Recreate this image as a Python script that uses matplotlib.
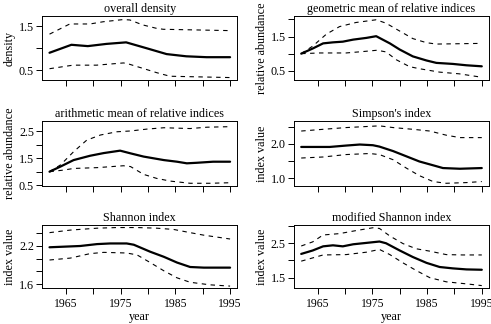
import matplotlib
matplotlib.use("Agg")
import matplotlib.pyplot as plt

plt.rcParams['font.family'] = ['Liberation Serif', 'DejaVu Serif']
plt.rcParams['font.size'] = 8.7

# overall density
dens_yr = [1962, 1966, 1969, 1972.4, 1976, 1979.8, 1983.4, 1987, 1990.7, 1995]
dens_mid = [0.90, 1.08, 1.05, 1.10, 1.135, 1.00, 0.87, 0.82, 0.80, 0.80]
dens_up_yr = [1962, 1965.7, 1969.4, 1971.8, 1975.5, 1976.7, 1979, 1981.6, 1982.8, 1995]
dens_up = [1.32, 1.55, 1.55, 1.60, 1.65, 1.64, 1.53, 1.45, 1.43, 1.40]
dens_lo_yr = [1962, 1966.3, 1970.6, 1975.5, 1976.1, 1979, 1981.6, 1984, 1987.7, 1995]
dens_lo = [0.54, 0.62, 0.62, 0.67, 0.66, 0.55, 0.45, 0.37, 0.36, 0.34]

# geometric mean of relative indices
geo_yr = [1962, 1964.1, 1966, 1967.8, 1969.6, 1971.5, 1973.9, 1975.7, 1978.2, 1980,
          1982.4, 1984.9, 1986.7, 1989.7, 1992.2, 1995]
geo_mid = [1.0, 1.15, 1.30, 1.33, 1.35, 1.41, 1.46, 1.51, 1.30, 1.12,
           0.92, 0.80, 0.73, 0.70, 0.66, 0.63]
geo_up_yr = [1962, 1964.1, 1966.6, 1969, 1972, 1975.7, 1977.5, 1980, 1982.4, 1984.9, 1986.7, 1995]
geo_up = [1.0, 1.22, 1.57, 1.79, 1.91, 1.99, 1.89, 1.66, 1.44, 1.32, 1.28, 1.30]
geo_lo_yr = [1962, 1965.4, 1970.2, 1973.2, 1975.9, 1977.5, 1979.4, 1981.8, 1983.6, 1987.3, 1990.9, 1995]
geo_lo = [1.0, 1.02, 1.02, 1.06, 1.10, 1.05, 0.82, 0.62, 0.56, 0.46, 0.41, 0.31]

# arithmetic mean of relative indices
ari_yr = [1962, 1964, 1966.4, 1969.4, 1971.9, 1974.9, 1976.8, 1979.2, 1982.9, 1985.3,
          1987.1, 1988.9, 1991.9, 1995]
ari_mid = [1.0, 1.19, 1.43, 1.59, 1.69, 1.78, 1.68, 1.56, 1.43, 1.37,
           1.31, 1.33, 1.37, 1.37]
ari_up_yr = [1962, 1964, 1966.4, 1968.8, 1971.3, 1974.3, 1976.8, 1979.8, 1982.9, 1987.7, 1990.8, 1995]
ari_up = [1.0, 1.25, 1.74, 2.17, 2.36, 2.48, 2.51, 2.58, 2.63, 2.60, 2.65, 2.67]
ari_lo_yr = [1962, 1964.6, 1966.4, 1970.7, 1975.5, 1976.8, 1979.2, 1981.6, 1984.1, 1987.7, 1991.3, 1995]
ari_lo = [1.0, 1.06, 1.12, 1.15, 1.22, 1.19, 0.90, 0.75, 0.65, 0.57, 0.57, 0.59]

# Simpson's index
simp_yr = [1962, 1967.2, 1970.2, 1972.7, 1975.1, 1976.3, 1978.8, 1981.2, 1983.6, 1986.1,
           1987.9, 1991, 1995]
simp_mid = [1.91, 1.91, 1.95, 1.98, 1.96, 1.92, 1.79, 1.64, 1.49, 1.38,
            1.30, 1.28, 1.30]
simp_up_yr = [1962, 1966, 1970.2, 1973.9, 1976.3, 1978.8, 1982.4, 1985.5, 1988.5, 1991, 1995]
simp_up = [2.37, 2.42, 2.47, 2.50, 2.52, 2.47, 2.42, 2.37, 2.25, 2.18, 2.18]
simp_lo_yr = [1962, 1966, 1970.2, 1974.5, 1976.3, 1978.8, 1981.2, 1983.6, 1986.1, 1988.5, 1992.2, 1995]
simp_lo = [1.59, 1.62, 1.69, 1.72, 1.69, 1.54, 1.30, 1.08, 0.91, 0.86, 0.88, 0.91]

# Shannon index
shan_yr = [1962, 1967.6, 1970.7, 1973.1, 1976.1, 1977.4, 1980.4, 1982.9, 1985.3, 1987.7,
           1990.2, 1992.6, 1995]
shan_mid = [2.18, 2.20, 2.23, 2.24, 2.24, 2.22, 2.11, 2.03, 1.94, 1.87,
            1.86, 1.86, 1.86]
shan_up_yr = [1962, 1965.8, 1970.7, 1974.3, 1978, 1981.6, 1984.7, 1987.7, 1990.2, 1995]
shan_up = [2.41, 2.45, 2.48, 2.49, 2.49, 2.48, 2.46, 2.41, 2.37, 2.31]
shan_lo_yr = [1962, 1965.8, 1969.4, 1971.9, 1976.1, 1978, 1980.4, 1982.9, 1985.3, 1987.7, 1991.3, 1995]
shan_lo = [1.98, 2.01, 2.08, 2.10, 2.09, 2.06, 1.94, 1.81, 1.70, 1.63, 1.59, 1.57]

# modified Shannon index
mshan_yr = [1962, 1964.1, 1966, 1967.8, 1969.6, 1971.5, 1973.9, 1976.3, 1977.5, 1980,
            1982.4, 1984.9, 1987.3, 1989.7, 1992.2, 1995]
mshan_mid = [2.19, 2.29, 2.41, 2.44, 2.41, 2.47, 2.51, 2.55, 2.50, 2.29,
             2.10, 1.93, 1.81, 1.77, 1.74, 1.73]
mshan_up_yr = [1962, 1964.1, 1966, 1969, 1972.1, 1975.1, 1976.3, 1978.2, 1980.6, 1983, 1985.5,
               1988.5, 1991.5, 1995]
mshan_up = [2.42, 2.54, 2.74, 2.78, 2.87, 2.95, 2.93, 2.71, 2.49, 2.34, 2.27,
            2.17, 2.16, 2.16]
mshan_lo_yr = [1962, 1966, 1970.2, 1973.9, 1976.3, 1978.2, 1980.6, 1983, 1985.5, 1988.5, 1992.2, 1995]
mshan_lo = [1.98, 2.16, 2.17, 2.24, 2.32, 2.17, 1.93, 1.71, 1.50, 1.38, 1.32, 1.27]

titles = ["overall density", "geometric mean of relative indices",
          "arithmetic mean of relative indices", "Simpson's index",
          "Shannon index", "modified Shannon index"]
ylabels = ["density", "relative abundance", "relative abundance",
           "index value", "index value", "index value"]
series = [
    (dens_yr, dens_mid, dens_up_yr, dens_up, dens_lo_yr, dens_lo),
    (geo_yr, geo_mid, geo_up_yr, geo_up, geo_lo_yr, geo_lo),
    (ari_yr, ari_mid, ari_up_yr, ari_up, ari_lo_yr, ari_lo),
    (simp_yr, simp_mid, simp_up_yr, simp_up, simp_lo_yr, simp_lo),
    (shan_yr, shan_mid, shan_up_yr, shan_up, shan_lo_yr, shan_lo),
    (mshan_yr, mshan_mid, mshan_up_yr, mshan_up, mshan_lo_yr, mshan_lo),
]
yticks = [[0.5, 1.0, 1.5], [0.5, 1.0, 1.5, 2.0], [0.5, 1.0, 1.5, 2.0, 2.5],
          [1.0, 1.5, 2.0, 2.5], [1.6, 1.8, 2.0, 2.2, 2.4], [1.5, 2.0, 2.5, 3.0]]
ytick_labels = [["0.5", "", "1.5"], ["0.5", "", "1.5", ""],
                ["0.5", "", "1.5", "", "2.5"], ["1.0", "", "2.0", ""],
                ["1.6", "", "", "2.2", ""], ["1.5", "", "2.5", ""]]
ylims = [(0.285, 1.73), (0.23, 2.10), (0.48, 2.88), (0.79, 2.66), (1.54, 2.53), (1.20, 3.03)]
xticks = [1965, 1970, 1975, 1980, 1985, 1990, 1995]
xtick_labels = ["1965", "", "1975", "", "1985", "", "1995"]

W, H = 491, 324
fig = plt.figure(figsize=(W / 100, H / 100), dpi=100)

col_left = [42.3, 294.0]
col_w = 195.0
rows = [(16, 80), (121, 185.7), (225, 288)]

for i in range(6):
    r, c = divmod(i, 2)
    top, bot = rows[r]
    ax = fig.add_axes([col_left[c] / W, 1 - bot / H, col_w / W, (bot - top) / H])
    yr, mid, uyr, up, lyr, lo = series[i]
    ax.plot(yr, mid, color='black', lw=1.6, solid_capstyle='round')
    ax.plot(uyr, up, color='black', lw=0.8, linestyle=(0, (4, 4)))
    ax.plot(lyr, lo, color='black', lw=0.8, linestyle=(0, (4, 4)))
    ax.set_xlim(1960.68, 1996.32)
    ax.set_ylim(*ylims[i])
    ax.set_yticks(yticks[i])
    ax.set_yticklabels(ytick_labels[i])
    ax.set_xticks(xticks)
    if r == 2:
        ax.set_xticklabels(xtick_labels)
        ax.set_xlabel("year", labelpad=1, fontsize=8.7)
    else:
        ax.set_xticklabels([])
    ax.tick_params(axis='x', direction='out', length=4, width=0.7, pad=3, labelsize=8.4)
    ax.tick_params(axis='y', direction='out', length=4.5, width=0.7, pad=1.5, labelsize=8.7)
    for s in ax.spines.values():
        s.set_linewidth(0.7)
    ax.set_title(titles[i], fontsize=8.7, pad=3)
    ax.set_ylabel(ylabels[i], labelpad=2, fontsize=8.7)

fig.savefig("out.png", dpi=100)
